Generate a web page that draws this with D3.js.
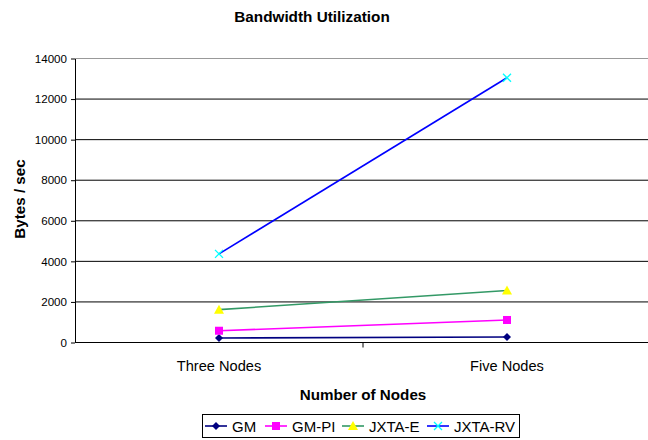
<!DOCTYPE html>
<html>
<head>
<meta charset="utf-8">
<script src="https://cdn.jsdelivr.net/npm/d3@7"></script>
<style>
  body { margin: 0; background: #fff; }
  text { font-family: "Liberation Sans", Arial, sans-serif; }
</style>
</head>
<body>
<svg id="chart" width="648" height="440"></svg>
<script>
// data
const categories = ["Three Nodes", "Five Nodes"];
const seriesNames = ["GM", "GM-PI", "JXTA-E", "JXTA-RV"];
const gmValues = [220, 270];
const gmPiValues = [580, 1110];
const jxtaEValues = [1620, 2560];
const jxtaRvValues = [4370, 13050];
const yTicks = [0, 2000, 4000, 6000, 8000, 10000, 12000, 14000];

const series = [
    {name: seriesNames[0], values: gmValues, line: "#000080", marker: "#000080", shape: "diamond"},
    {name: seriesNames[1], values: gmPiValues, line: "#ff00ff", marker: "#ff00ff", shape: "square"},
    {name: seriesNames[2], values: jxtaEValues, line: "#339966", marker: "#ffff00", shape: "triangle"},
    {name: seriesNames[3], values: jxtaRvValues, line: "#0000ff", marker: "#00ffff", shape: "cross"}
];

const svg = d3.select("#chart");
const margins = {left: 75, top: 58.5, right: -3, bottom: 97.5};
const width = +svg.attr("width");
const height = +svg.attr("height");
const chartWidth = width - margins.left - margins.right;
const chartHeight = height - margins.top - margins.bottom;

// scales
const xScale = d3.scaleBand().domain(categories).range([0, chartWidth]);
const yScale = d3.scaleLinear().domain([0, 14000]).range([chartHeight, 0]);

const chart = svg.append("g")
    .attr("transform", `translate(${margins.left}, ${margins.top})`);

// gridlines
chart.append("g")
    .selectAll("line")
    .data(yTicks.filter(d => d > 0))
    .join("line")
    .attr("x1", 0).attr("x2", chartWidth)
    .attr("y1", d => yScale(d)).attr("y2", d => yScale(d))
    .attr("stroke", d => d === 14000 ? "#999" : "#000")
    .attr("stroke-width", 1);

// y axis
const yAxisG = chart.append("g")
    .call(d3.axisLeft(yScale).tickValues(yTicks).tickFormat(d3.format("d"))
        .tickSize(4).tickSizeOuter(0).tickPadding(4));
yAxisG.select(".domain").attr("stroke", "#000");
yAxisG.selectAll("text").attr("font-size", 11.6).attr("fill", "#000")
    .style("font-family", "'Liberation Sans', Arial, sans-serif");

// x axis
const xAxisG = chart.append("g")
    .attr("transform", `translate(0, ${chartHeight})`);
xAxisG.append("line")
    .attr("x1", 0).attr("x2", chartWidth)
    .attr("stroke", "#000");
xAxisG.selectAll(".sep")
    .data(categories.slice(1))
    .join("line")
    .attr("class", "sep")
    .attr("x1", d => xScale(d)).attr("x2", d => xScale(d))
    .attr("y1", 0).attr("y2", 5)
    .attr("stroke", "#000");
xAxisG.selectAll(".lbl")
    .data(categories)
    .join("text")
    .attr("class", "lbl")
    .attr("x", d => xScale(d) + xScale.bandwidth() / 2)
    .attr("y", 28.5)
    .attr("text-anchor", "middle")
    .attr("font-size", 14.6)
    .text(d => d);

const cx = d => xScale(categories[d]) + xScale.bandwidth() / 2;

// lines
const line = d3.line()
    .x((d, i) => cx(i))
    .y(d => yScale(d));

chart.selectAll(".series")
    .data(series)
    .join("path")
    .attr("class", "series")
    .attr("d", d => line(d.values))
    .attr("fill", "none")
    .attr("stroke", d => d.line)
    .attr("stroke-width", 1.6);

// markers
function drawMarker(g, shape, color) {
    if (shape === "diamond") {
        g.append("path").attr("d", "M0,-4L4,0L0,4L-4,0Z").attr("fill", color);
    } else if (shape === "square") {
        g.append("rect").attr("x", -4).attr("y", -4).attr("width", 8).attr("height", 8).attr("fill", color);
    } else if (shape === "triangle") {
        g.append("path").attr("d", "M0,-5L5,4L-5,4Z").attr("fill", color);
    } else {
        g.append("path").attr("d", "M-4,-4L4,4M-4,4L4,-4").attr("stroke", color).attr("stroke-width", 1.3);
    }
}

series.forEach(s => {
    s.values.forEach((v, i) => {
        const g = chart.append("g").attr("transform", `translate(${cx(i)}, ${yScale(v)})`);
        drawMarker(g, s.shape, s.marker);
    });
});

// title
svg.append("text")
    .attr("x", 312).attr("y", 22)
    .attr("text-anchor", "middle")
    .attr("font-size", 15.3).attr("font-weight", "bold")
    .text("Bandwidth Utilization");

svg.append("text")
    .attr("x", 363).attr("y", 400)
    .attr("text-anchor", "middle")
    .attr("font-size", 15.2).attr("font-weight", "bold")
    .text("Number of Nodes");

svg.append("text")
    .attr("transform", "translate(25, 199) rotate(-90)")
    .attr("text-anchor", "middle")
    .attr("font-size", 15.2).attr("font-weight", "bold")
    .text("Bytes / sec");

// legend
const legendX = [205, 265, 342, 427];
const legend = svg.append("g");
legend.append("rect")
    .attr("x", 202.5).attr("y", 414.5)
    .attr("width", 317).attr("height", 23)
    .attr("fill", "#fff").attr("stroke", "#000");
series.forEach((s, i) => {
    const g = legend.append("g").attr("transform", `translate(${legendX[i]}, 426)`);
    g.append("line").attr("x1", 0).attr("x2", 22).attr("stroke", s.line).attr("stroke-width", 1.6);
    drawMarker(g.append("g").attr("transform", "translate(11,0)"), s.shape, s.marker);
    g.append("text").attr("x", 27).attr("y", 5.5).attr("font-size", 15).text(s.name);
});
</script>
</body>
</html>
